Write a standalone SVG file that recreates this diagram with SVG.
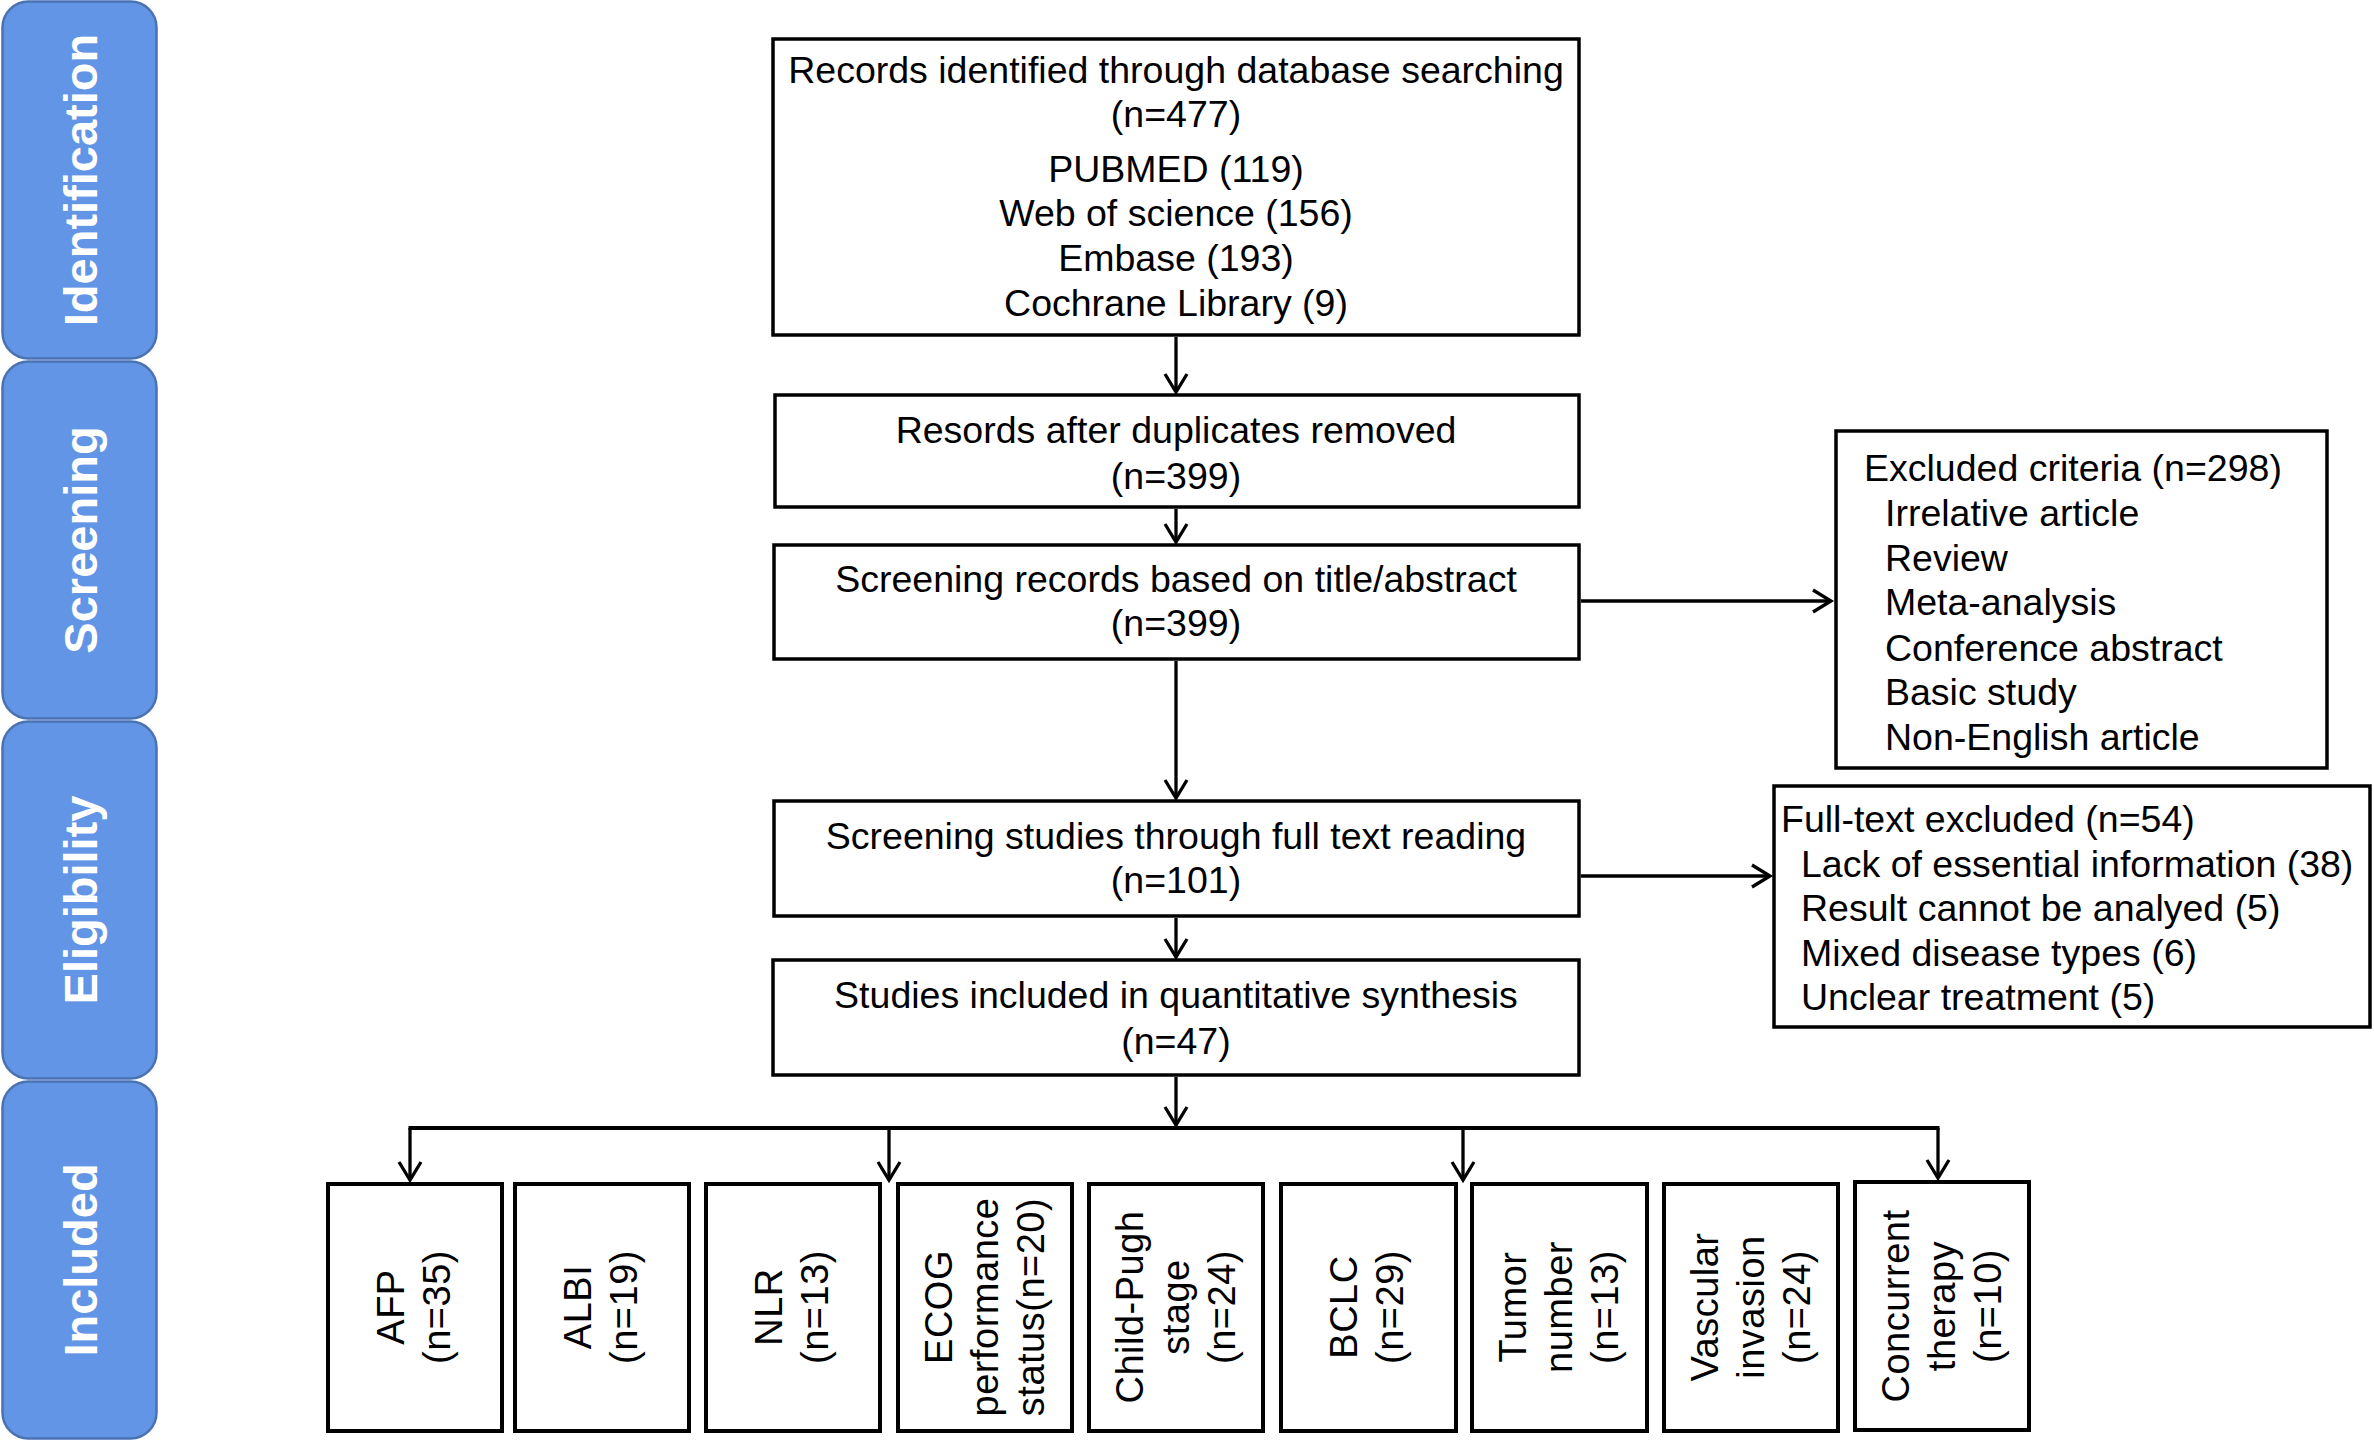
<svg xmlns="http://www.w3.org/2000/svg" width="2374" height="1440" viewBox="0 0 2374 1440">
<defs>
<style>
.band{fill:#6395E6;stroke:#4A72B2;stroke-width:2.5}
.bl{font-family:"Liberation Sans",Arial,sans-serif;font-weight:bold;font-size:47px;fill:#fff;text-anchor:middle}
.box{fill:#fff;stroke:#000;stroke-width:3.5}
.bbox{fill:#fff;stroke:#000;stroke-width:4}
.t{font-family:"Liberation Sans",Arial,sans-serif;font-size:37.5px;fill:#000}
.r{font-size:38px;letter-spacing:0.5px}
.c{text-anchor:middle}
.conn{fill:none;stroke:#000;stroke-width:3.3}
</style>
<marker id="ah" markerUnits="userSpaceOnUse" markerWidth="40" markerHeight="40" refX="0" refY="0" orient="auto" overflow="visible">
<path d="M-18,-11 L0,0 L-18,11" fill="none" stroke="#000" stroke-width="3.3" stroke-linejoin="miter"/>
</marker>
</defs>
<rect width="2374" height="1440" fill="#fff"/>

<g id="band-identification"><rect class="band" x="2.5" y="1.5" width="154" height="357" rx="26"/><text class="bl" transform="translate(80 180) rotate(-90)" x="0" y="17">Identification</text></g>
<g id="band-screening"><rect class="band" x="2.5" y="361.5" width="154" height="357" rx="26"/><text class="bl" transform="translate(80 540) rotate(-90)" x="0" y="17">Screening</text></g>
<g id="band-eligibility"><rect class="band" x="2.5" y="721.5" width="154" height="357" rx="26"/><text class="bl" transform="translate(80 900) rotate(-90)" x="0" y="17">Eligibility</text></g>
<g id="band-included"><rect class="band" x="2.5" y="1081.5" width="154" height="357" rx="26"/><text class="bl" transform="translate(80 1260) rotate(-90)" x="0" y="17">Included</text></g>

<g id="connectors">
<line class="conn" x1="1176" y1="337" x2="1176" y2="392" marker-end="url(#ah)"/>
<line class="conn" x1="1176" y1="509" x2="1176" y2="542" marker-end="url(#ah)"/>
<line class="conn" x1="1176" y1="661" x2="1176" y2="798" marker-end="url(#ah)"/>
<line class="conn" x1="1581" y1="601" x2="1831" y2="601" marker-end="url(#ah)"/>
<line class="conn" x1="1581" y1="876" x2="1770" y2="876" marker-end="url(#ah)"/>
<line class="conn" x1="1176" y1="918" x2="1176" y2="957" marker-end="url(#ah)"/>
<line class="conn" x1="1176" y1="1077" x2="1176" y2="1125" marker-end="url(#ah)"/>
<line class="conn" x1="408.5" y1="1128" x2="1939.5" y2="1128" style="stroke-width:3.8"/>
<line class="conn" x1="410" y1="1128" x2="410" y2="1180" marker-end="url(#ah)"/>
<line class="conn" x1="889" y1="1128" x2="889" y2="1180" marker-end="url(#ah)"/>
<line class="conn" x1="1463" y1="1128" x2="1463" y2="1180" marker-end="url(#ah)"/>
<line class="conn" x1="1938" y1="1128" x2="1938" y2="1178" marker-end="url(#ah)"/>
</g>

<g id="records-identified">
<rect class="box" x="773" y="39" width="806" height="296"/>
<text class="t c" x="1176" y="83">Records identified through database searching</text>
<text class="t c" x="1176" y="127">(n=477)</text>
<text class="t c" x="1176" y="182">PUBMED (119)</text>
<text class="t c" x="1176" y="226">Web of science (156)</text>
<text class="t c" x="1176" y="271">Embase (193)</text>
<text class="t c" x="1176" y="316">Cochrane Library (9)</text>
</g>

<g id="after-duplicates">
<rect class="box" x="775" y="395" width="804" height="112"/>
<text class="t c" x="1176" y="443">Resords after duplicates removed</text>
<text class="t c" x="1176" y="489">(n=399)</text>
</g>

<g id="screening-title">
<rect class="box" x="774" y="545" width="805" height="114"/>
<text class="t c" x="1176" y="592">Screening records based on title/abstract</text>
<text class="t c" x="1176" y="636">(n=399)</text>
</g>

<g id="screening-fulltext">
<rect class="box" x="774" y="801" width="805" height="115"/>
<text class="t c" x="1176" y="849">Screening studies through full text reading</text>
<text class="t c" x="1176" y="893">(n=101)</text>
</g>

<g id="studies-included">
<rect class="box" x="773" y="960" width="806" height="115"/>
<text class="t c" x="1176" y="1008">Studies included in quantitative synthesis</text>
<text class="t c" x="1176" y="1054">(n=47)</text>
</g>

<g id="excluded-criteria">
<rect class="box" x="1836" y="431" width="491" height="337"/>
<text class="t" x="1864" y="481">Excluded criteria (n=298)</text>
<text class="t" x="1885" y="526">Irrelative article</text>
<text class="t" x="1885" y="571">Review</text>
<text class="t" x="1885" y="615">Meta-analysis</text>
<text class="t" x="1885" y="661">Conference abstract</text>
<text class="t" x="1885" y="705">Basic study</text>
<text class="t" x="1885" y="750">Non-English article</text>
</g>

<g id="fulltext-excluded">
<rect class="box" x="1774" y="786" width="596" height="241"/>
<text class="t" x="1781" y="832">Full-text excluded (n=54)</text>
<text class="t" x="1801" y="877">Lack of essential information (38)</text>
<text class="t" x="1801" y="921">Result cannot be analyed (5)</text>
<text class="t" x="1801" y="966">Mixed disease types (6)</text>
<text class="t" x="1801" y="1010">Unclear treatment (5)</text>
</g>

<g id="afp"><rect class="bbox" x="328" y="1184" width="174" height="247"/>
<text class="t r c" transform="translate(415 1307) rotate(-90)"><tspan x="0" y="-11">AFP</tspan><tspan x="0" y="35">(n=35)</tspan></text></g>
<g id="albi"><rect class="bbox" x="515" y="1184" width="174" height="247"/>
<text class="t r c" transform="translate(602 1307) rotate(-90)"><tspan x="0" y="-11">ALBI</tspan><tspan x="0" y="35">(n=19)</tspan></text></g>
<g id="nlr"><rect class="bbox" x="706" y="1184" width="174" height="247"/>
<text class="t r c" transform="translate(793 1307) rotate(-90)"><tspan x="0" y="-11">NLR</tspan><tspan x="0" y="35">(n=13)</tspan></text></g>
<g id="ecog"><rect class="bbox" x="898" y="1184" width="174" height="247"/>
<text class="t r c" transform="translate(985 1307) rotate(-90)"><tspan x="0" y="-33">ECOG</tspan><tspan x="0" y="13">performance</tspan><tspan x="0" y="59">status(n=20)</tspan></text></g>
<g id="child-pugh"><rect class="bbox" x="1089" y="1184" width="174" height="247"/>
<text class="t r c" transform="translate(1176 1307) rotate(-90)"><tspan x="0" y="-33">Child-Pugh</tspan><tspan x="0" y="13">stage</tspan><tspan x="0" y="59">(n=24)</tspan></text></g>
<g id="bclc"><rect class="bbox" x="1281" y="1184" width="175" height="247"/>
<text class="t r c" transform="translate(1368 1307) rotate(-90)"><tspan x="0" y="-11">BCLC</tspan><tspan x="0" y="35">(n=29)</tspan></text></g>
<g id="tumor"><rect class="bbox" x="1472" y="1184" width="175" height="247"/>
<text class="t r c" transform="translate(1559 1307) rotate(-90)"><tspan x="0" y="-33">Tumor</tspan><tspan x="0" y="13">number</tspan><tspan x="0" y="59">(n=13)</tspan></text></g>
<g id="vascular"><rect class="bbox" x="1664" y="1184" width="174" height="247"/>
<text class="t r c" transform="translate(1751 1307) rotate(-90)"><tspan x="0" y="-33">Vascular</tspan><tspan x="0" y="13">invasion</tspan><tspan x="0" y="59">(n=24)</tspan></text></g>
<g id="concurrent"><rect class="bbox" x="1855" y="1182" width="174" height="248"/>
<text class="t r c" transform="translate(1942 1306) rotate(-90)"><tspan x="0" y="-33">Concurrent</tspan><tspan x="0" y="13">therapy</tspan><tspan x="0" y="59">(n=10)</tspan></text></g>
</svg>
